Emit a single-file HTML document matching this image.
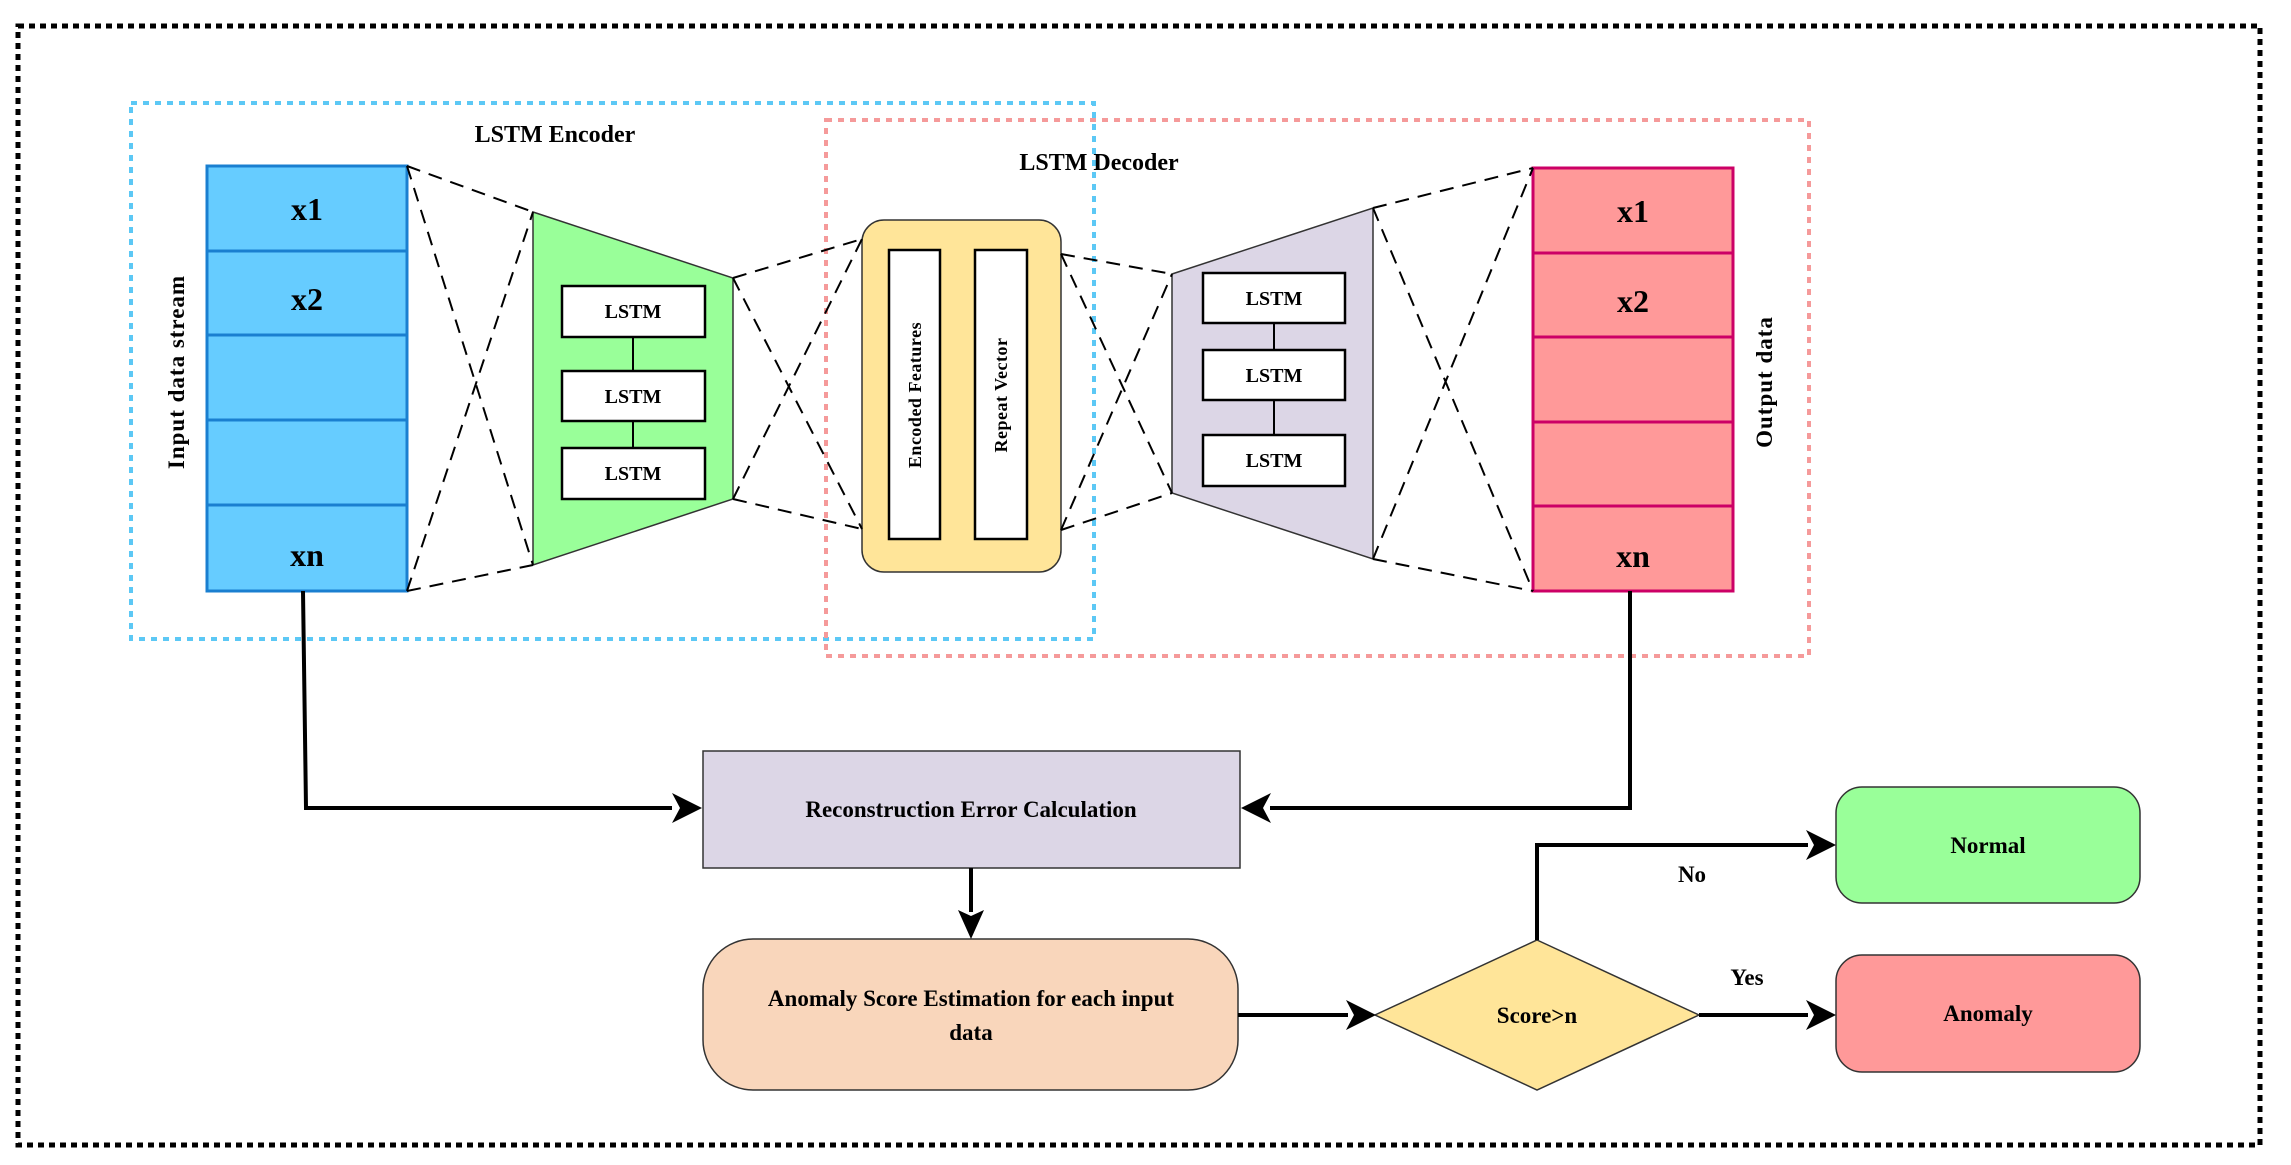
<!DOCTYPE html>
<html><head><meta charset="utf-8"><style>
html,body{margin:0;padding:0;background:#fff;}
svg{display:block;}
text{font-family:"Liberation Serif",serif;font-weight:bold;fill:#000;}
</style></head><body>
<svg width="2291" height="1165" viewBox="0 0 2291 1165" xmlns="http://www.w3.org/2000/svg">
<defs>
<marker id="ah" markerWidth="10" markerHeight="10" refX="9" refY="5" orient="auto" markerUnits="userSpaceOnUse" viewBox="0 0 10 10">
</marker>
</defs>
<!-- outer border -->
<rect x="18" y="26" width="2242" height="1119" fill="none" stroke="#000" stroke-width="5" stroke-dasharray="6 5"/>
<!-- encoder/decoder dotted boxes -->
<rect x="131" y="103" width="963" height="536" fill="none" stroke="#5cc8f5" stroke-width="4" stroke-dasharray="6 6"/>
<rect x="826" y="120" width="983" height="536" fill="none" stroke="#f59a9a" stroke-width="4" stroke-dasharray="6 6"/>
<text x="555" y="142" font-size="24" text-anchor="middle">LSTM Encoder</text>
<text x="1099" y="170" font-size="24" text-anchor="middle">LSTM Decoder</text>

<!-- input box -->
<g stroke="#1a7fd0" stroke-width="3" fill="#66ccff">
<rect x="207" y="166" width="200" height="85"/>
<rect x="207" y="251" width="200" height="84"/>
<rect x="207" y="335" width="200" height="85"/>
<rect x="207" y="420" width="200" height="85"/>
<rect x="207" y="505" width="200" height="86"/>
</g>
<text x="307" y="220" font-size="32" text-anchor="middle">x1</text>
<text x="307" y="310" font-size="32" text-anchor="middle">x2</text>
<text x="307" y="566" font-size="32" text-anchor="middle">xn</text>
<text transform="translate(184,372) rotate(-90)" font-size="23" text-anchor="middle" letter-spacing="1">Input data stream</text>

<!-- green trapezoid -->
<polygon points="533,212 733,278 733,499 533,565" fill="#99ff99" stroke="#333" stroke-width="1.5"/>
<g fill="#fff" stroke="#000" stroke-width="2.5">
<rect x="562" y="286" width="143" height="51"/>
<rect x="562" y="371" width="143" height="50"/>
<rect x="562" y="448" width="143" height="51"/>
</g>
<line x1="633" y1="337" x2="633" y2="371" stroke="#000" stroke-width="2"/>
<line x1="633" y1="421" x2="633" y2="448" stroke="#000" stroke-width="2"/>
<g font-size="20" text-anchor="middle"><text x="633" y="318">LSTM</text><text x="633" y="403">LSTM</text><text x="633" y="480">LSTM</text></g>

<!-- yellow -->
<rect x="862" y="220" width="199" height="352" rx="22" fill="#ffe599" stroke="#333" stroke-width="1.5"/>
<rect x="889" y="250" width="51" height="289" fill="#fff" stroke="#000" stroke-width="2.5"/>
<rect x="975" y="250" width="52" height="289" fill="#fff" stroke="#000" stroke-width="2.5"/>
<text transform="translate(921,395) rotate(-90)" font-size="18" text-anchor="middle" letter-spacing="0.5">Encoded Features</text>
<text transform="translate(1007,395) rotate(-90)" font-size="18" text-anchor="middle" letter-spacing="0.5">Repeat Vector</text>

<!-- purple trapezoid -->
<polygon points="1172,274 1373,208 1373,559 1172,493" fill="#dcd6e6" stroke="#333" stroke-width="1.5"/>
<g fill="#fff" stroke="#000" stroke-width="2.5">
<rect x="1203" y="273" width="142" height="50"/>
<rect x="1203" y="350" width="142" height="50"/>
<rect x="1203" y="435" width="142" height="51"/>
</g>
<line x1="1274" y1="323" x2="1274" y2="350" stroke="#000" stroke-width="2"/>
<line x1="1274" y1="400" x2="1274" y2="435" stroke="#000" stroke-width="2"/>
<g font-size="20" text-anchor="middle"><text x="1274" y="305">LSTM</text><text x="1274" y="382">LSTM</text><text x="1274" y="467">LSTM</text></g>

<!-- output box -->
<g stroke="#cc0066" stroke-width="3" fill="#ff9999">
<rect x="1533" y="168" width="200" height="85"/>
<rect x="1533" y="253" width="200" height="84"/>
<rect x="1533" y="337" width="200" height="85"/>
<rect x="1533" y="422" width="200" height="84"/>
<rect x="1533" y="506" width="200" height="85"/>
</g>
<text x="1633" y="222" font-size="32" text-anchor="middle">x1</text>
<text x="1633" y="312" font-size="32" text-anchor="middle">x2</text>
<text x="1633" y="567" font-size="32" text-anchor="middle">xn</text>
<text transform="translate(1772,382) rotate(-90)" font-size="23" text-anchor="middle" letter-spacing="1">Output data</text>

<!-- dashed connectors -->
<g stroke="#000" stroke-width="2" stroke-dasharray="14 9" fill="none">
<line x1="407" y1="166" x2="533" y2="212"/>
<line x1="407" y1="166" x2="533" y2="565"/>
<line x1="407" y1="591" x2="533" y2="212"/>
<line x1="407" y1="591" x2="533" y2="565"/>
<line x1="733" y1="278" x2="862" y2="239"/>
<line x1="733" y1="278" x2="862" y2="529"/>
<line x1="733" y1="499" x2="862" y2="239"/>
<line x1="733" y1="499" x2="862" y2="529"/>
<line x1="1061" y1="254" x2="1172" y2="274"/>
<line x1="1061" y1="254" x2="1172" y2="493"/>
<line x1="1061" y1="530" x2="1172" y2="274"/>
<line x1="1061" y1="530" x2="1172" y2="493"/>
<line x1="1373" y1="208" x2="1533" y2="168"/>
<line x1="1373" y1="208" x2="1533" y2="591"/>
<line x1="1373" y1="559" x2="1533" y2="168"/>
<line x1="1373" y1="559" x2="1533" y2="591"/>
</g>

<!-- bottom flow -->
<rect x="703" y="751" width="537" height="117" fill="#dcd6e6" stroke="#333" stroke-width="1.5"/>
<text x="971" y="817" font-size="23" text-anchor="middle">Reconstruction Error Calculation</text>
<rect x="703" y="939" width="535" height="151" rx="50" fill="#f9d6bb" stroke="#333" stroke-width="1.5"/>
<text x="971" y="1006" font-size="23" text-anchor="middle">Anomaly Score Estimation for each input</text>
<text x="971" y="1040" font-size="23" text-anchor="middle">data</text>
<polygon points="1537,940 1699,1015 1537,1090 1375,1015" fill="#ffe599" stroke="#333" stroke-width="1.5"/>
<text x="1537" y="1023" font-size="23" text-anchor="middle">Score&gt;n</text>
<rect x="1836" y="787" width="304" height="116" rx="26" fill="#99ff99" stroke="#333" stroke-width="1.5"/>
<text x="1988" y="853" font-size="23" text-anchor="middle">Normal</text>
<rect x="1836" y="955" width="304" height="117" rx="26" fill="#ff9999" stroke="#333" stroke-width="1.5"/>
<text x="1988" y="1021" font-size="23" text-anchor="middle">Anomaly</text>
<text x="1692" y="882" font-size="23" text-anchor="middle">No</text>
<text x="1747" y="985" font-size="23" text-anchor="middle">Yes</text>

<g stroke="#000" stroke-width="4" fill="none">
<polyline points="303,591 306,808 672,808"/>
<polyline points="1630,591 1630,808 1270,808"/>
<line x1="971" y1="868" x2="971" y2="912"/>
<line x1="1238" y1="1015" x2="1348" y2="1015"/>
<line x1="1699" y1="1015" x2="1808" y2="1015"/>
<polyline points="1537,940 1537,845 1808,845"/>
</g>
<g fill="#000">
<polygon points="702,808 672,793 680,808 672,823"/>
<polygon points="1241,808 1271,793 1263,808 1271,823"/>
<polygon points="971,939 958,910 971,916 984,910"/>
<polygon points="1376,1015 1346,1000 1354,1015 1346,1030"/>
<polygon points="1836,1015 1806,1000 1814,1015 1806,1030"/>
<polygon points="1836,845 1806,830 1814,845 1806,860"/>
</g>
</svg>
</body></html>
